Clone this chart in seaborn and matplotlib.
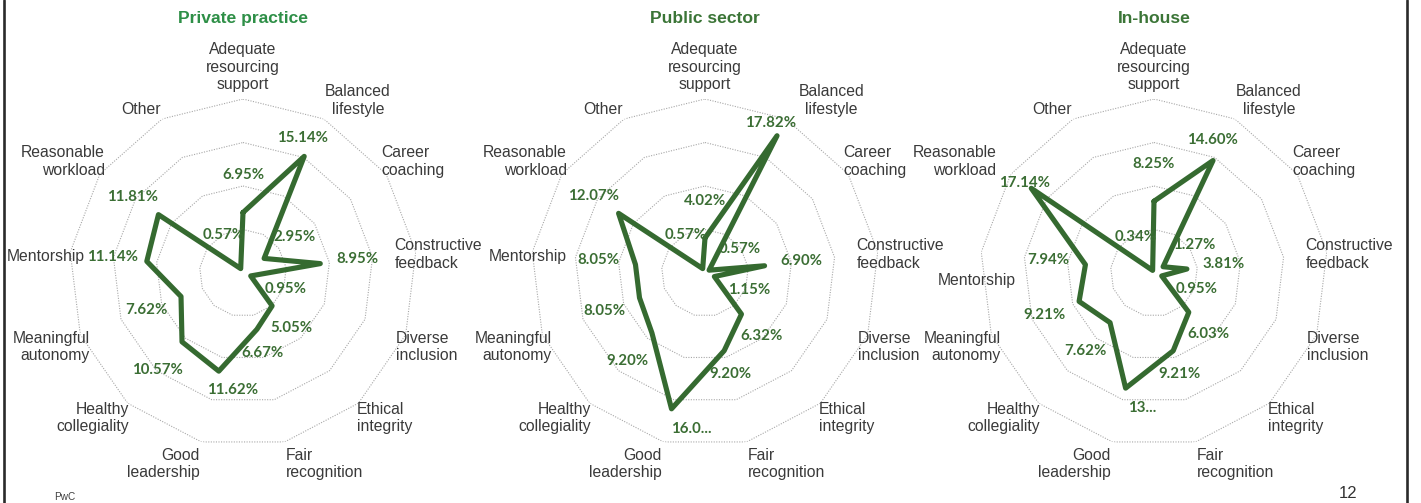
import numpy as np
import pandas as pd
import matplotlib
matplotlib.use("Agg")
import matplotlib.pyplot as plt
import seaborn as sns
from matplotlib.lines import Line2D
from matplotlib.transforms import ScaledTranslation

# Wellbeing drivers ranked by respondents, by sector (share of responses, %)
categories = [
    "Adequate\nresourcing\nsupport", "Balanced\nlifestyle", "Career\ncoaching",
    "Constructive\nfeedback", "Diverse\ninclusion", "Ethical\nintegrity",
    "Fair\nrecognition", "Good\nleadership", "Healthy\ncollegiality",
    "Meaningful\nautonomy", "Mentorship", "Reasonable\nworkload", "Other",
]
panel_titles = ["Private practice", "Public sector", "In-house"]

private_practice = [6.95, 15.14, 2.95, 8.95, 0.95, 5.05, 6.67, 11.62, 10.57, 7.62, 11.14, 11.81, 0.57]
public_sector = [4.02, 17.82, 0.57, 6.90, 1.15, 6.32, 9.20, 16.08, 9.20, 8.05, 8.05, 12.07, 0.57]
in_house = [8.25, 14.60, 1.27, 3.81, 0.95, 6.03, 9.21, 13.63, 7.62, 9.21, 7.94, 17.14, 0.34]

# value labels that are shown shortened in the chart
shortened_labels = {
    ("Public sector", "Good\nleadership"): "16.0...",
    ("In-house", "Good\nleadership"): "13...",
}

ring_levels = [5, 10, 15, 20]
r_max = 20

# value-label placement tweaks per spoke: (angle shift in degrees, radial shift in %)
value_label_tweaks = {
    "Balanced\nlifestyle": (-4.0, 0.0),
    "Ethical\nintegrity": (0.0, -0.9),
    "Fair\nrecognition": (0.0, -1.5),
}

# styling
LINE_GREEN = "#356a30"
LABEL_GREEN = "#3b6e34"
TITLE_COLORS = ["#2e8f47", "#3b7537", "#3b7537"]
TEXT_GREY = "#3a3a3a"
RING_GREY = "#a8a8a8"

sns.set_theme(style="white")
plt.rcParams["font.family"] = ["Liberation Sans", "DejaVu Sans"]

W, H = 1421, 503
DPI = 100
fig = plt.figure(figsize=(W / DPI, H / DPI), dpi=DPI)
fig.patch.set_facecolor("white")

radius_px = 174
centers_x = [243, 705, 1154]
center_y = 273
ax_w = 2 * radius_px / W
ax_h = 2 * radius_px / H
ax_bottom = (H - center_y - radius_px) / H

n = len(categories)
theta = np.arange(n) * 2 * np.pi / n
theta_closed = np.append(theta, theta[0])

series = [private_practice, public_sector, in_house]
panels = []

for title, values, cx, tcolor in zip(panel_titles, series, centers_x, TITLE_COLORS):
    ax = fig.add_axes([(cx - radius_px) / W, ax_bottom, ax_w, ax_h], projection="polar")
    ax.set_theta_zero_location("N")
    ax.set_theta_direction(-1)
    ax.set_axis_off()

    # dotted polygonal grid rings
    for lvl in ring_levels:
        ax.plot(theta_closed, np.full(n + 1, lvl), color=RING_GREY, lw=0.8,
                ls=(0, (1, 1.3)), zorder=1)

    df = pd.DataFrame({"angle": theta_closed, "share": np.append(values, values[0])})
    sns.lineplot(data=df, x="angle", y="share", sort=False, estimator=None, ax=ax,
                 color=LINE_GREEN, lw=3.7, zorder=3)
    line = ax.lines[-1]
    line.set_solid_joinstyle("round")
    line.set_solid_capstyle("round")
    ax.set_ylim(0, r_max)
    ax.set_xlabel("")
    ax.set_ylabel("")

    # category labels around the outer ring
    cat_texts = []
    for ang, cat in zip(theta, categories):
        s, c = np.sin(ang), np.cos(ang)
        ha = "center" if abs(s) < 0.1 else ("left" if s > 0 else "right")
        va = "bottom" if c > 0.3 else ("top" if c < -0.3 else "center")
        ma = "center" if c > 0.75 else ha
        if abs(c) < 0.3:
            r_lab = 17.55 if s > 0 else 15.97
        else:
            r_lab = 20.8 - 2.27 * s ** 2
        t = ax.text(ang, r_lab, cat, ha=ha, va=va, multialignment=ma,
                    fontsize=11.3, color=TEXT_GREY, linespacing=1.2, zorder=4)
        cat_texts.append(t)

    # value labels
    val_texts = []
    for ang, cat, v in zip(theta, categories, values):
        if cat == "Good\nleadership":
            d_ang, r_lab = -9.0, v + 1.9
        else:
            d_ang, dr = value_label_tweaks.get(cat, (0.0, 0.0))
            off = float(np.clip(4.3 - 0.55 * max(0.0, v - 10.5), 1.0, 4.3))
            r_lab = v + off + dr
        txt = shortened_labels.get((title, cat), f"{v:.2f}%")
        t = ax.text(ang + np.deg2rad(d_ang), r_lab, txt, ha="center", va="center",
                    fontsize=10.8, fontweight="bold", family=["Lato", "DejaVu Sans"],
                    color=LABEL_GREEN, zorder=5)
        val_texts.append(t)

    ax.text(0.5, 1 + (center_y - radius_px - 18) / (2 * radius_px), title,
            transform=ax.transAxes, ha="center", va="center", fontsize=12.6,
            fontweight="bold", color=tcolor)
    panels.append((ax, cat_texts, val_texts))


def shift_text(t, dx_px, dy_px):
    t.set_transform(t.get_transform() + ScaledTranslation(dx_px / DPI, dy_px / DPI,
                                                          fig.dpi_scale_trans))


# push category labels sideways where a value label sits on top of them
fig.canvas.draw()
renderer = fig.canvas.get_renderer()
for ax, cat_texts, val_texts in panels:
    for ct in cat_texts:
        cb = ct.get_window_extent(renderer)
        for vt in val_texts:
            vb = vt.get_window_extent(renderer)
            if cb.overlaps(vb):
                if ct.get_ha() == "right":
                    dx = -(cb.x1 - vb.x0 + 2)
                elif ct.get_ha() == "left":
                    dx = vb.x1 - cb.x0 + 2
                else:
                    dx = 0
                shift_text(ct, dx, 0)
                cb = cb.translated(dx, 0)

# move a label down when it runs into the neighbouring panel's labels
fig.canvas.draw()
for (_, left_cats, _), (_, right_cats, _) in zip(panels[:-1], panels[1:]):
    for rt in right_cats:
        rb = rt.get_window_extent(renderer)
        for lt in left_cats:
            lb = lt.get_window_extent(renderer)
            if rb.overlaps(lb):
                dy = -(rb.y1 - lb.y0 + 2)
                shift_text(rt, 0, dy)
                rb = rb.translated(0, dy)

# slide frame and footer
for xpx in (4, 1407.3):
    fig.add_artist(Line2D([xpx / W, xpx / W], [0, 1], transform=fig.transFigure,
                          color="#2a2a2a", lw=1.9))
fig.text(65 / W, 1 - 497 / H, "PwC", ha="center", va="center", fontsize=7.2, color="#404040")
fig.text(1348 / W, 1 - 493 / H, "12", ha="center", va="center", fontsize=12, color="#333333")

fig.savefig("out.png", dpi=DPI, facecolor="white")
